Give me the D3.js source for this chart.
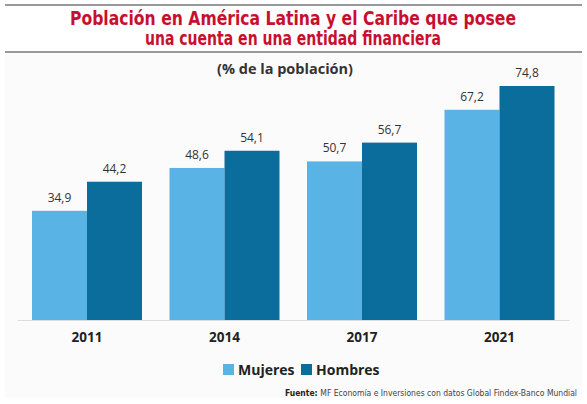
<!DOCTYPE html><html><head><meta charset="utf-8"><script src="https://d3js.org/d3.v7.min.js"></script>
<style>body{margin:0;background:#fff}</style></head><body><script>
const years=["2011","2014","2017","2021"];
const mujeres=[34.9,48.6,50.7,67.2];
const hombres=[44.2,54.1,56.7,74.8];
const series=["Mujeres","Hombres"];
const colors=["#59b3e4","#0a6d9b"];
const W=587,H=404;
const svg=d3.select("body").append("svg").attr("width",W).attr("height",H);
svg.append("rect").attr("x",5).attr("y",53).attr("width",577).attr("height",345).attr("fill","#fbfbfb");
[5,52].forEach(y=>svg.append("line").attr("x1",5).attr("x2",582).attr("y1",y).attr("y2",y).attr("stroke","#777").attr("stroke-width",1.5));
const tf="'Liberation Sans Narrow','DejaVu Sans Condensed',sans-serif";
const titles=["Población en América Latina y el Caribe que posee","una cuenta en una entidad financiera"];
const tlens=[446,296];
titles.forEach((t,i)=>
 svg.append("text").attr("x",293).attr("y",25+i*20).attr("text-anchor","middle").attr("font-family",tf).attr("font-weight","bold").attr("font-size",19).attr("textLength",tlens[i]).attr("lengthAdjust","spacingAndGlyphs").attr("fill","#c8102e").text(t));
svg.append("text").attr("x",285).attr("y",74).attr("text-anchor","middle").attr("font-family","'Open Sans',sans-serif").attr("font-weight","bold").attr("font-size",14.5).attr("fill","#333").text("(% de la población)");
const x=d3.scaleBand().domain(years).range([18.25,568.25]).paddingInner(0.2).paddingOuter(0.1);
const xs=d3.scaleBand().domain(series).range([0,x.bandwidth()]);
const y=d3.scaleLinear().domain([0,74.8]).range([320,86]);
svg.append("line").attr("x1",18).attr("x2",570).attr("y1",320.5).attr("y2",320.5).attr("stroke","#ddd");
const data=[mujeres,hombres];
series.forEach((s,si)=>{
 const g=svg.append("g");
 g.selectAll("rect").data(years).join("rect").attr("x",d=>x(d)+xs(s)).attr("width",xs.bandwidth()).attr("y",(d,i)=>y(data[si][i])).attr("height",(d,i)=>320-y(data[si][i])).attr("fill",colors[si]);
 g.selectAll("text").data(years).join("text").attr("x",d=>x(d)+xs(s)+xs.bandwidth()/2).attr("y",(d,i)=>y(data[si][i])-9).attr("text-anchor","middle").attr("font-family","'Open Sans',sans-serif").attr("font-size",12).attr("fill","#333").text((d,i)=>String(data[si][i]).replace(".",","));
});
const ax=svg.append("g").attr("transform","translate(0,320)").call(d3.axisBottom(x).tickSize(0).tickPadding(12));
ax.select(".domain").remove();
ax.selectAll("text").attr("font-family","'Open Sans',sans-serif").attr("font-weight","bold").attr("font-size",13.5).attr("fill","#222");
const lx=[223,301];
series.forEach((s,i)=>{
 svg.append("rect").attr("x",lx[i]).attr("y",364).attr("width",11).attr("height",11).attr("fill",colors[i]);
 svg.append("text").attr("x",lx[i]+15).attr("y",375).attr("font-family","'Open Sans',sans-serif").attr("font-weight","bold").attr("font-size",14).attr("fill","#222").text(s);
});
const f=svg.append("text").attr("x",577).attr("y",396).attr("text-anchor","end").attr("font-family",tf).attr("font-size",8.5).attr("fill","#444");
f.append("tspan").attr("font-weight","bold").attr("fill","#222").text("Fuente: ");
f.append("tspan").text("MF Economía e Inversiones con datos Global Findex-Banco Mundial");
</script></body></html>
